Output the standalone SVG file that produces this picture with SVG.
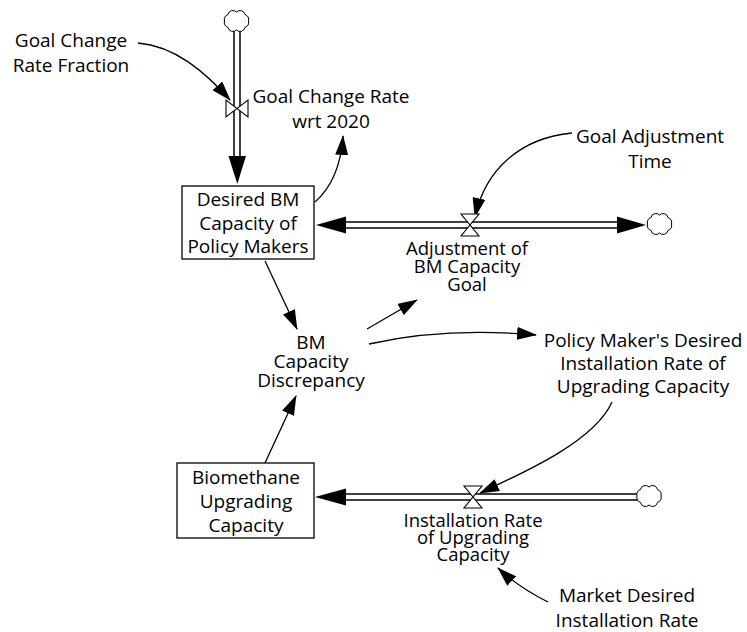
<svg xmlns="http://www.w3.org/2000/svg" xmlns:xlink="http://www.w3.org/1999/xlink" width="747" height="632" viewBox="0 0 747 632">
<style>
.bg{fill:#fff}
.lbl{font-family:"Open Sans","Liberation Sans",sans-serif;font-size:19px;fill:#000;text-anchor:middle}
.tight{font-size:18.5px}
.stock{fill:#fff;stroke:#000;stroke-width:1.3}
.pipe-o{fill:none;stroke:#000;stroke-width:7.5}
.pipe-i{fill:none;stroke:#fff;stroke-width:4.5}
.fhead{fill:#000;stroke:none}
.valve{fill:#fff;stroke:#000;stroke-width:1.1}
.cloud{fill:#fff;stroke:#000;stroke-width:1}
.link{fill:none;stroke:#000;stroke-width:1.3;marker-end:url(#ah)}
</style>
<defs>
<marker id="ah" viewBox="0 0 20 13" markerWidth="20" markerHeight="13" refX="19" refY="6.5" orient="auto" markerUnits="userSpaceOnUse">
<path d="M0,0 L20,6.5 L0,13 Z" fill="#000"/>
</marker>
<path id="cloudshape" d="M12,0 A5,5 0 0 1 8.5,6.4 A5,5 0 0 1 0,9 A5,5 0 0 1 -8.5,6.4 A5,5 0 0 1 -12,0 A5,5 0 0 1 -8.5,-6.4 A5,5 0 0 1 0,-9 A5,5 0 0 1 8.5,-6.4 A5,5 0 0 1 12,0 Z"/>
</defs>
<rect class="bg" x="0" y="0" width="747" height="632"/>

<g id="connectors">
<path class="pipe-o" d="M237,30 L237,158"/>
<path class="pipe-i" d="M237,30 L237,158"/>
<polygon class="fhead" points="228.5,156 246,156 237.3,184"/>
<path class="pipe-o" d="M344,225 L619,225"/>
<path class="pipe-i" d="M344,225 L619,225"/>
<polygon class="fhead" points="346,216.5 346,233.5 316,225"/>
<polygon class="fhead" points="617,216.5 617,233.5 646,225"/>
<path class="pipe-o" d="M344,497 L640,497"/>
<path class="pipe-i" d="M344,497 L640,497"/>
<polygon class="fhead" points="346,488.5 346,505.5 315,497"/>
<path class="link" d="M138,43 C175,46 205,72 230,100"/>
<path class="link" d="M315,202 Q340,180 343,136"/>
<path class="link" d="M572,133 C520,138 485,170 475,217"/>
<path class="link" d="M265,261 L297,329"/>
<path class="link" d="M367,329 L417,300"/>
<path class="link" d="M369,344 Q445,327 536,335"/>
<path class="link" d="M612,402 C595,440 530,470 480,493"/>
<path class="link" d="M265,463 L296,396"/>
<path class="link" d="M548,602 Q518,587 498,568"/>
</g>

<g id="cloud-top"><use xlink:href="#cloudshape" href="#cloudshape" class="cloud" x="236.5" y="21"/></g>
<g id="cloud-right"><use xlink:href="#cloudshape" href="#cloudshape" class="cloud" x="659.5" y="224"/></g>
<g id="cloud-bottom"><use xlink:href="#cloudshape" href="#cloudshape" class="cloud" x="649" y="496"/></g>

<g id="desired-bm-capacity">
<rect class="stock" x="182" y="186" width="132" height="73"/>
<text class="lbl" x="248" y="206">Desired BM</text>
<text class="lbl" x="248" y="230">Capacity of</text>
<text class="lbl" x="248" y="253">Policy Makers</text>
</g>

<g id="biomethane-upgrading-capacity">
<rect class="stock" x="177" y="463" width="137" height="75"/>
<text class="lbl" x="246" y="484">Biomethane</text>
<text class="lbl" x="246" y="508">Upgrading</text>
<text class="lbl" x="246" y="532">Capacity</text>
</g>

<g id="goal-change-rate">
<path class="valve" d="M226,100 L226,117 L248,100 L248,117 Z"/>
<text class="lbl" x="331" y="103">Goal Change Rate</text>
<text class="lbl" x="331" y="128">wrt 2020</text>
</g>

<g id="adjustment-of-goal">
<path class="valve" d="M461,214 L479,214 L461,236 L479,236 Z"/>
<text class="lbl tight" x="467" y="255">Adjustment of</text>
<text class="lbl tight" x="467" y="273">BM Capacity</text>
<text class="lbl tight" x="467" y="291">Goal</text>
</g>

<g id="installation-rate">
<path class="valve" d="M464,486 L482,486 L464,508 L482,508 Z"/>
<text class="lbl tight" x="473" y="527">Installation Rate</text>
<text class="lbl tight" x="473" y="544">of Upgrading</text>
<text class="lbl tight" x="473" y="561">Capacity</text>
</g>

<g id="goal-change-rate-fraction">
<text class="lbl" x="71" y="47">Goal Change</text>
<text class="lbl" x="71" y="72">Rate Fraction</text>
</g>

<g id="goal-adjustment-time">
<text class="lbl" x="650" y="143">Goal Adjustment</text>
<text class="lbl" x="650" y="168">Time</text>
</g>

<g id="bm-capacity-discrepancy">
<text class="lbl" x="311" y="349">BM</text>
<text class="lbl" x="311" y="368">Capacity</text>
<text class="lbl" x="311" y="387">Discrepancy</text>
</g>

<g id="policy-desired-installation-rate">
<text class="lbl" x="643" y="347">Policy Maker's Desired</text>
<text class="lbl" x="643" y="370">Installation Rate of</text>
<text class="lbl" x="643" y="393">Upgrading Capacity</text>
</g>

<g id="market-desired-installation-rate">
<text class="lbl" x="627" y="602">Market Desired</text>
<text class="lbl" x="627" y="627">Installation Rate</text>
</g>
</svg>
